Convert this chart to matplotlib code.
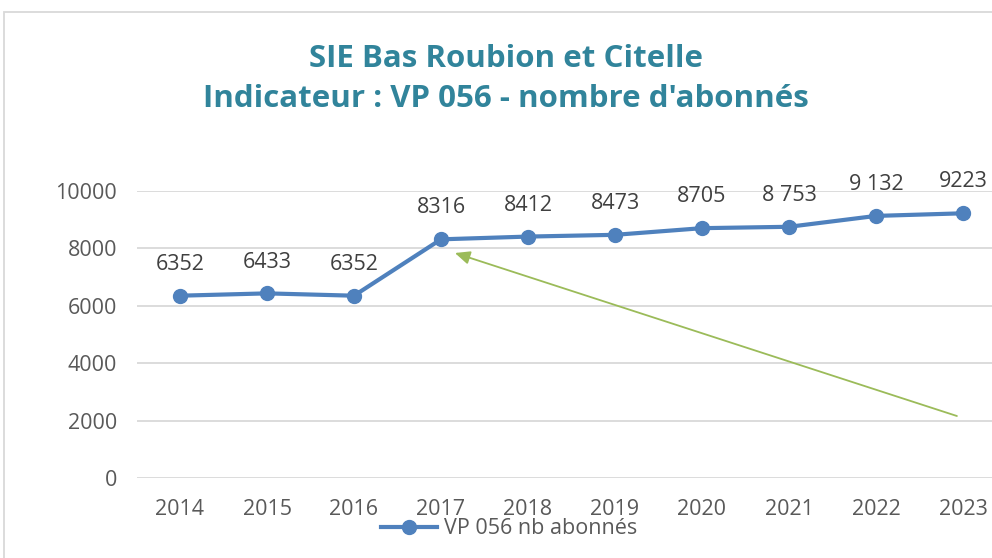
import matplotlib.pyplot as plt
from matplotlib.patches import Rectangle

# données
annees = ['2014', '2015', '2016', '2017', '2018', '2019', '2020', '2021', '2022', '2023']
abonnes = [6352, 6433, 6352, 8316, 8412, 8473, 8705, 8753, 9132, 9223]
etiquettes = ['6352', '6433', '6352', '8316', '8412', '8473', '8705', '8 753', '9 132', '9223']
y_ticks = [0, 2000, 4000, 6000, 8000, 10000]
titre = "SIE Bas Roubion et Citelle\nIndicateur : VP 056 - nombre d'abonnés"
legende = "VP 056 nb abonnés"

# flèche verte (coordonnées données : x = index année, y = valeur)
fleche_debut = (8.93, 2160)
fleche_fin = (3.16, 7840)

BLEU = '#4F81BD'
GRIS_TEXTE = '#595959'
GRILLE = '#D9D9D9'
TAILLE = 15.5

plt.rcParams['font.family'] = ['Open Sans', 'DejaVu Sans']

fig = plt.figure(figsize=(9.92, 5.58), dpi=100)
fig.patch.set_facecolor('white')

# cadre du graphique (déborde à droite et en bas)
fig.patches.append(Rectangle((4 / 992, -0.1), 1.2, (558 - 12) / 558 + 0.1,
                             transform=fig.transFigure, fill=False,
                             edgecolor=GRILLE, linewidth=1.3, zorder=0))

ax = fig.add_axes([136.5 / 992, 80 / 558, 870 / 992, 287 / 558])
x = list(range(len(annees)))
ax.plot(x, abonnes, color=BLEU, linewidth=3, marker='o', markersize=10,
        clip_on=False, zorder=3, label=legende)

for xi, yi, lab in zip(x, abonnes, etiquettes):
    ax.annotate(lab, (xi, yi), xytext=(0, 15), textcoords='offset points',
                ha='center', va='bottom', fontsize=TAILLE, color='#404040')

ax.annotate('', xy=fleche_fin, xytext=fleche_debut,
            arrowprops=dict(arrowstyle='-|>,head_length=0.9,head_width=0.4',
                            color='#9BBB59', linewidth=1.3, shrinkA=0, shrinkB=0))

ax.set_xlim(-0.5, len(annees) - 0.5)
ax.set_ylim(0, 10000)
ax.set_xticks(x)
ax.set_xticklabels(annees)
ax.set_yticks(y_ticks)
ax.tick_params(axis='both', length=0, labelsize=TAILLE, labelcolor=GRIS_TEXTE)
ax.tick_params(axis='x', pad=15)
ax.tick_params(axis='y', pad=14)
ax.grid(axis='y', color=GRILLE, linewidth=1.3)
ax.set_axisbelow(True)
for s in ax.spines.values():
    s.set_visible(False)

fig.text(506 / 992, 1 - 79 / 558, titre, ha='center', va='center',
         fontsize=22.5, fontweight='bold', color='#31849B', linespacing=1.4)

fig.legend(loc='center', bbox_to_anchor=(509 / 992, 1 - 529 / 558),
           frameon=False, fontsize=TAILLE, labelcolor=GRIS_TEXTE,
           handlelength=2.6, handletextpad=0.3, borderaxespad=0)

fig.savefig('out.png', dpi=100)
